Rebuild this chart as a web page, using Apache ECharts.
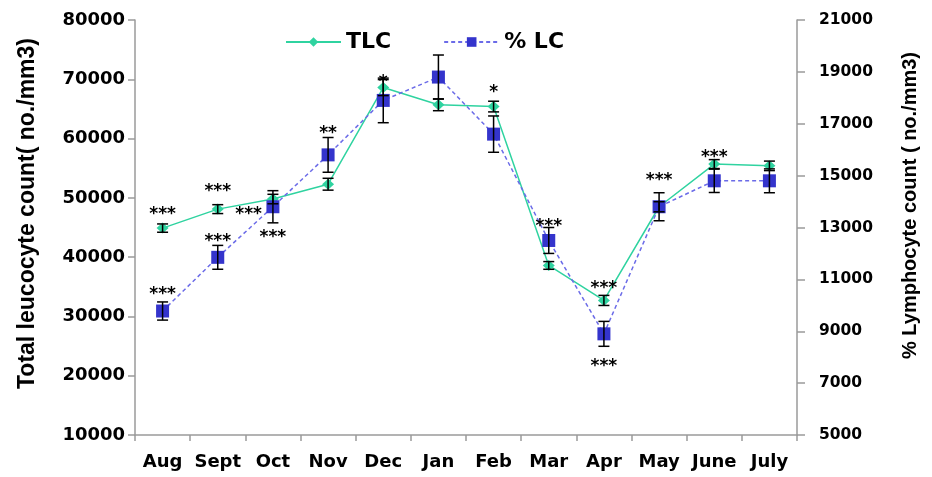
<!DOCTYPE html>
<html>
<head>
<meta charset="utf-8">
<script src="https://cdn.jsdelivr.net/npm/echarts@6/dist/echarts.min.js"></script>
<style>
  html, body { margin: 0; padding: 0; background: #fff; }
  #chart { width: 932px; height: 477px; }
</style>
</head>
<body>
<div id="chart"></div>
<script>
// Monthly blood counts: total leucocyte count (left axis) and lymphocyte count (right axis)
const months = ['Aug', 'Sept', 'Oct', 'Nov', 'Dec', 'Jan', 'Feb', 'Mar', 'Apr', 'May', 'June', 'July'];
const tlcValues = [44900, 48100, 49800, 52300, 68600, 65700, 65400, 38600, 32700, 48500, 55700, 55400];
const tlcErrors = [700, 750, 800, 1000, 1350, 1000, 900, 650, 850, 850, 750, 800];
const lcValues = [9780, 11850, 13800, 15800, 17900, 18800, 16600, 12500, 8900, 13800, 14800, 14800];
const lcErrors = [350, 460, 620, 670, 860, 850, 700, 500, 480, 540, 450, 460];

// Significance marks: [month index, axis value where the mark sits, mark, side]
const tlcMarks = [
  [0, 47950, '***', 'center'],
  [1, 51880, '***', 'center'],
  [2, 48030, '***', 'left'],
  [4, 70330, '*', 'center'],
  [6, 68580, '*', 'center'],
  [8, 35590, '***', 'center'],
  [10, 57620, '***', 'center']
];
const lcMarks = [
  [0, 10620, '***', 'center'],
  [1, 12650, '***', 'center'],
  [2, 12800, '***', 'center'],
  [3, 16800, '**', 'center'],
  [7, 13240, '***', 'center'],
  [8, 7830, '***', 'center'],
  [9, 15020, '***', 'center']
];

// Axis ranges and ticks
const leftAxis = { min: 10000, max: 80000, interval: 10000 };
const rightAxis = { min: 5000, max: 21000, interval: 2000 };

const TLC_COLOR = '#2fd3a0';
const LC_COLOR = '#3434cc';
const LC_LINE = '#6b6be8';
const AXIS_GRAY = '#9a9a9a';

function errorData(values, errors) {
  return values.map((v, i) => [i, v - errors[i], v + errors[i]]);
}

function renderErrorBar(params, api) {
  const lo = api.coord([api.value(0), api.value(1)]);
  const hi = api.coord([api.value(0), api.value(2)]);
  const cap = 5.5;
  const style = { stroke: '#000', lineWidth: 1.5 };
  return {
    type: 'group',
    children: [
      { type: 'line', shape: { x1: lo[0], y1: lo[1], x2: hi[0], y2: hi[1] }, style },
      { type: 'line', shape: { x1: lo[0] - cap, y1: lo[1], x2: lo[0] + cap, y2: lo[1] }, style },
      { type: 'line', shape: { x1: hi[0] - cap, y1: hi[1], x2: hi[0] + cap, y2: hi[1] }, style }
    ]
  };
}

function markSeries(marks, axisIndex) {
  return {
    type: 'custom',
    yAxisIndex: axisIndex,
    silent: true,
    z: 10,
    data: marks.map(m => [m[0], m[1]]),
    encode: { x: 0, y: 1 },
    renderItem: function (params, api) {
      const m = marks[params.dataIndex];
      const p = api.coord([api.value(0), api.value(1)]);
      const bandW = api.size([1, 0])[0];
      const x = m[3] === 'left' ? p[0] - bandW * 0.44 : p[0];
      return {
        type: 'text',
        x: x,
        y: p[1] + 5,
        style: {
          text: m[2],
          fill: '#000',
          font: 'bold 17px "DejaVu Sans"',
          align: 'center',
          verticalAlign: 'middle'
        }
      };
    }
  };
}

const plainNumber = v => String(v);

const chart = echarts.init(document.getElementById('chart'));
chart.setOption({
  animation: false,
  backgroundColor: '#fff',
  grid: { left: 135, right: 135, top: 20, bottom: 42 },
  legend: {
    data: ['TLC', '% LC'],
    left: 280,
    top: 26,
    itemWidth: 55,
    itemHeight: 12,
    itemGap: 52,
    textStyle: { fontFamily: 'DejaVu Sans', fontWeight: 'bold', fontSize: 22, color: '#000' }
  },
  xAxis: {
    type: 'category',
    data: months,
    boundaryGap: true,
    axisLine: { lineStyle: { color: AXIS_GRAY, width: 1.5 } },
    axisTick: { show: true, length: 6, lineStyle: { color: AXIS_GRAY, width: 1.5 } },
    axisLabel: {
      interval: 0,
      margin: 18,
      color: '#000',
      fontFamily: 'DejaVu Sans',
      fontWeight: 'bold',
      fontSize: 18
    },
    splitLine: { show: false }
  },
  yAxis: [
    {
      type: 'value',
      position: 'left',
      min: leftAxis.min,
      max: leftAxis.max,
      interval: leftAxis.interval,
      axisLine: { show: true, lineStyle: { color: AXIS_GRAY, width: 1.5 } },
      axisTick: { show: true, length: 7, lineStyle: { color: AXIS_GRAY, width: 1.5 } },
      axisLabel: {
        margin: 10, color: '#000', fontFamily: 'DejaVu Sans', fontWeight: 'bold', fontSize: 18,
        formatter: plainNumber
      },
      splitLine: { show: false },
      name: 'Total leucocyte count( no./mm3)',
      nameLocation: 'middle',
      nameRotate: 90,
      nameGap: 96,
      nameTextStyle: {
        color: '#000', fontFamily: 'Liberation Sans', fontWeight: 'bold', fontSize: 23,
        padding: [0, 0, 0, 28]
      }
    },
    {
      type: 'value',
      position: 'right',
      min: rightAxis.min,
      max: rightAxis.max,
      interval: rightAxis.interval,
      axisLine: { show: true, lineStyle: { color: AXIS_GRAY, width: 1.5 } },
      axisTick: { show: true, length: 8, lineStyle: { color: AXIS_GRAY, width: 1.5 } },
      axisLabel: {
        margin: 22, color: '#000', fontFamily: 'DejaVu Sans', fontWeight: 'bold', fontSize: 15.5,
        formatter: plainNumber
      },
      splitLine: { show: false },
      name: '% Lymphocyte count ( no./mm3)',
      nameLocation: 'middle',
      nameRotate: 90,
      nameGap: 103,
      nameTextStyle: {
        color: '#000', fontFamily: 'Liberation Sans', fontWeight: 'bold', fontSize: 20,
        padding: [0, 0, 0, 44]
      }
    }
  ],
  series: [
    {
      name: 'TLC',
      type: 'line',
      yAxisIndex: 0,
      data: tlcValues,
      symbol: 'diamond',
      symbolSize: [12, 11],
      itemStyle: { color: TLC_COLOR },
      lineStyle: { color: TLC_COLOR, width: 1.5 },
      z: 3
    },
    {
      name: '% LC',
      type: 'line',
      yAxisIndex: 1,
      data: lcValues,
      symbol: 'rect',
      symbolSize: 13,
      itemStyle: { color: LC_COLOR },
      lineStyle: { color: LC_LINE, width: 1.5, type: [4, 3] },
      z: 4
    },
    {
      type: 'custom',
      yAxisIndex: 0,
      silent: true,
      z: 5,
      data: errorData(tlcValues, tlcErrors),
      encode: { x: 0, y: [1, 2] },
      renderItem: renderErrorBar
    },
    {
      type: 'custom',
      yAxisIndex: 1,
      silent: true,
      z: 5,
      data: errorData(lcValues, lcErrors),
      encode: { x: 0, y: [1, 2] },
      renderItem: renderErrorBar
    },
    markSeries(tlcMarks, 0),
    markSeries(lcMarks, 1)
  ]
});
</script>
</body>
</html>
